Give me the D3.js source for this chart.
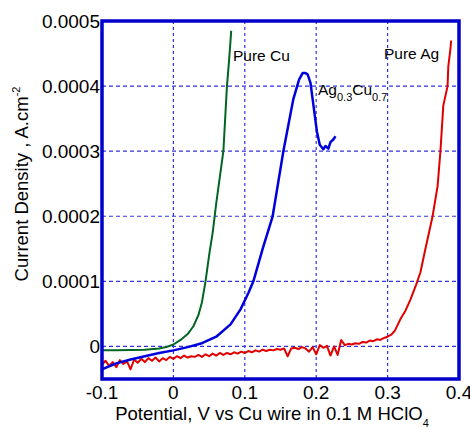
<!DOCTYPE html>
<html><head><meta charset="utf-8">
<script src="https://cdn.jsdelivr.net/npm/d3@7"></script>
<style>body{margin:0;background:#fff}text{font-family:"Liberation Sans",Arial,sans-serif}</style>
</head><body><svg id="c" width="470" height="427"></svg>
<script>
const xTicks = [-0.1, 0, 0.1, 0.2, 0.3, 0.4];
const yTicks = [0, 0.0001, 0.0002, 0.0003, 0.0004, 0.0005];
const yTickLabels = ["0", "0.0001", "0.0002", "0.0003", "0.0004", "0.0005"];

const cuX = [-0.1,-0.08,-0.06,-0.04,-0.02,-0.01,0,0.01,0.02,0.028,0.035,0.04,0.045,0.05,0.055,0.06,0.065,0.07,0.075,0.078,0.081];
const cuY = [-0.0000058,-0.0000057,-0.0000055,-0.000005,-0.000003,-0.000001,0.000003,0.00001,0.000019,0.000031,0.000048,0.000068,0.0001,0.00014,0.000175,0.00022,0.00026,0.0003,0.0004,0.00044,0.000485];

const agcuX = [-0.1,-0.08,-0.06,-0.04,-0.02,0,0.02,0.04,0.06,0.08,0.094,0.105,0.112,0.125,0.139,0.154,0.168,0.176,0.181,0.185,0.188,0.192,0.195,0.198,0.201,0.205,0.21,0.213,0.217,0.22,0.224,0.227];
const agcuY = [-0.000035,-0.000026,-0.00002,-0.000015,-0.00001,-0.000006,-0.000001,0.000005,0.000015,0.000034,0.000057,0.000082,0.0001,0.00015,0.0002,0.0003,0.00038,0.00041,0.00042,0.00042,0.000418,0.000405,0.00038,0.000355,0.00033,0.00031,0.000303,0.000308,0.000304,0.000314,0.000318,0.000323];

const agX = [-0.1,-0.095,-0.09,-0.085,-0.08,-0.075,-0.07,-0.065,-0.06,-0.055,-0.05,-0.045,-0.04,-0.035,-0.03,-0.025,-0.02,-0.015,-0.01,-0.005,
  0,0.005,0.01,0.015,0.02,0.025,0.03,0.035,0.04,0.045,0.05,0.055,0.06,0.065,0.07,0.075,0.08,0.085,0.09,0.095,
  0.1,0.105,0.11,0.115,0.12,0.125,0.13,0.135,0.14,0.145,0.15,0.155,0.16,0.165,0.17,0.175,0.18,0.185,0.19,0.195,
  0.2,0.205,0.21,0.215,0.22,0.225,0.23,0.235,0.24,0.245,0.25,0.255,0.26,0.265,0.27,0.275,0.28,0.285,0.29,0.295,
  0.3,0.305,0.31,0.318,0.325,0.332,0.34,0.346,0.352,0.356,0.363,0.37,0.374,0.378,0.384,0.385,0.388,0.389];
const agY = [-28e-6,-22e-6,-30e-6,-24e-6,-32e-6,-21e-6,-27e-6,-23e-6,-35e-6,-20e-6,-25e-6,-19e-6,-24e-6,-18e-6,-22e-6,-17e-6,-23e-6,-18e-6,-21e-6,-16e-6,
  -19e-6,-15e-6,-18e-6,-14e-6,-17e-6,-15e-6,-16e-6,-13e-6,-16e-6,-12e-6,-15e-6,-11e-6,-14e-6,-10e-6,-13e-6,-10e-6,-12e-6,-9e-6,-11e-6,-8e-6,
  -10e-6,-7e-6,-9e-6,-6e-6,-8e-6,-5e-6,-7e-6,-5e-6,-6e-6,-4e-6,-5e-6,-3e-6,-15e-6,-3e-6,-2e-6,-4e-6,-1e-6,-3e-6,-8e-6,-1e-6,
  -12e-6,2e-6,-2e-6,1e-6,-14e-6,0,-13e-6,10e-6,2e-6,4e-6,3e-6,5e-6,4e-6,7e-6,6e-6,9e-6,8e-6,11e-6,10e-6,13e-6,
  15e-6,18e-6,24e-6,42e-6,55e-6,72e-6,95e-6,114e-6,145e-6,165e-6,200e-6,246e-6,300e-6,370e-6,400e-6,430e-6,457e-6,470e-6];

const svg = d3.select("#c");
const m = {l:102, t:21, r:459, b:379};
const x = d3.scaleLinear().domain([-0.1, 0.4]).range([m.l, m.r]);
const y = d3.scaleLinear().domain([-0.00005, 0.0005]).range([m.b, m.t]);
const frameC = "#0000cc";

// grid
svg.append("g").selectAll("line").data(xTicks.slice(1,-1)).join("line")
  .attr("x1", d=>x(d)).attr("x2", d=>x(d)).attr("y1", m.t).attr("y2", m.b)
  .attr("stroke", "#3333dd").attr("stroke-width", 1.2).attr("stroke-dasharray", "3,3");
svg.append("g").selectAll("line").data(yTicks.slice(0,-1)).join("line")
  .attr("y1", d=>y(d)).attr("y2", d=>y(d)).attr("x1", m.l).attr("x2", m.r)
  .attr("stroke", "#3333dd").attr("stroke-width", 1.2).attr("stroke-dasharray", "4,3");

const line = d3.line().x(d=>x(d[0])).y(d=>y(d[1]));
function series(xs, ys, c, w){
  svg.append("path").datum(xs.map((v,i)=>[v, ys[i]])).attr("d", line)
    .attr("fill","none").attr("stroke", c).attr("stroke-width", w).attr("stroke-linejoin","round");
}
series(agX, agY, "#e00000", 2);
series(cuX, cuY, "#006622", 2);
series(agcuX, agcuY, "#0000dd", 2.5);

// frame
svg.append("rect").attr("x", m.l).attr("y", m.t).attr("width", m.r-m.l).attr("height", m.b-m.t)
  .attr("fill","none").attr("stroke", frameC).attr("stroke-width", 3.5);

// tick labels
svg.append("g").selectAll("text").data(xTicks).join("text")
  .attr("x", d=>x(d)).attr("y", 399).attr("text-anchor","middle").attr("font-size", 19).text(d=>d);
svg.append("g").selectAll("text").data(yTicks).join("text")
  .attr("x", 100).attr("y", d=>y(d)+7).attr("text-anchor","end").attr("font-size", 19).text((d,i)=>yTickLabels[i]);

// axis titles
const xt = svg.append("text").attr("x", 272).attr("y", 420).attr("text-anchor","middle").attr("font-size", 18.5);
xt.append("tspan").text("Potential, V vs Cu wire in 0.1 M HClO");
xt.append("tspan").attr("font-size", 11).attr("dy", 7).text("4");
const yt = svg.append("text").attr("transform","translate(28,184) rotate(-90)").attr("text-anchor","middle").attr("font-size", 18.5);
yt.append("tspan").text("Current Density , A.cm");
yt.append("tspan").attr("font-size", 11).attr("dy", -8).text("-2");

// labels
svg.append("text").attr("x", 233).attr("y", 61).attr("font-size", 15.5).text("Pure Cu");
svg.append("text").attr("x", 384).attr("y", 59).attr("font-size", 15.5).text("Pure Ag");
const al = svg.append("text").attr("x", 318).attr("y", 95).attr("font-size", 15.5);
al.append("tspan").text("Ag");
al.append("tspan").attr("font-size", 11).attr("dy", 6).text("0.3");
al.append("tspan").attr("dy", -6).text("Cu");
al.append("tspan").attr("font-size", 11).attr("dy", 6).text("0.7");
</script></body></html>
